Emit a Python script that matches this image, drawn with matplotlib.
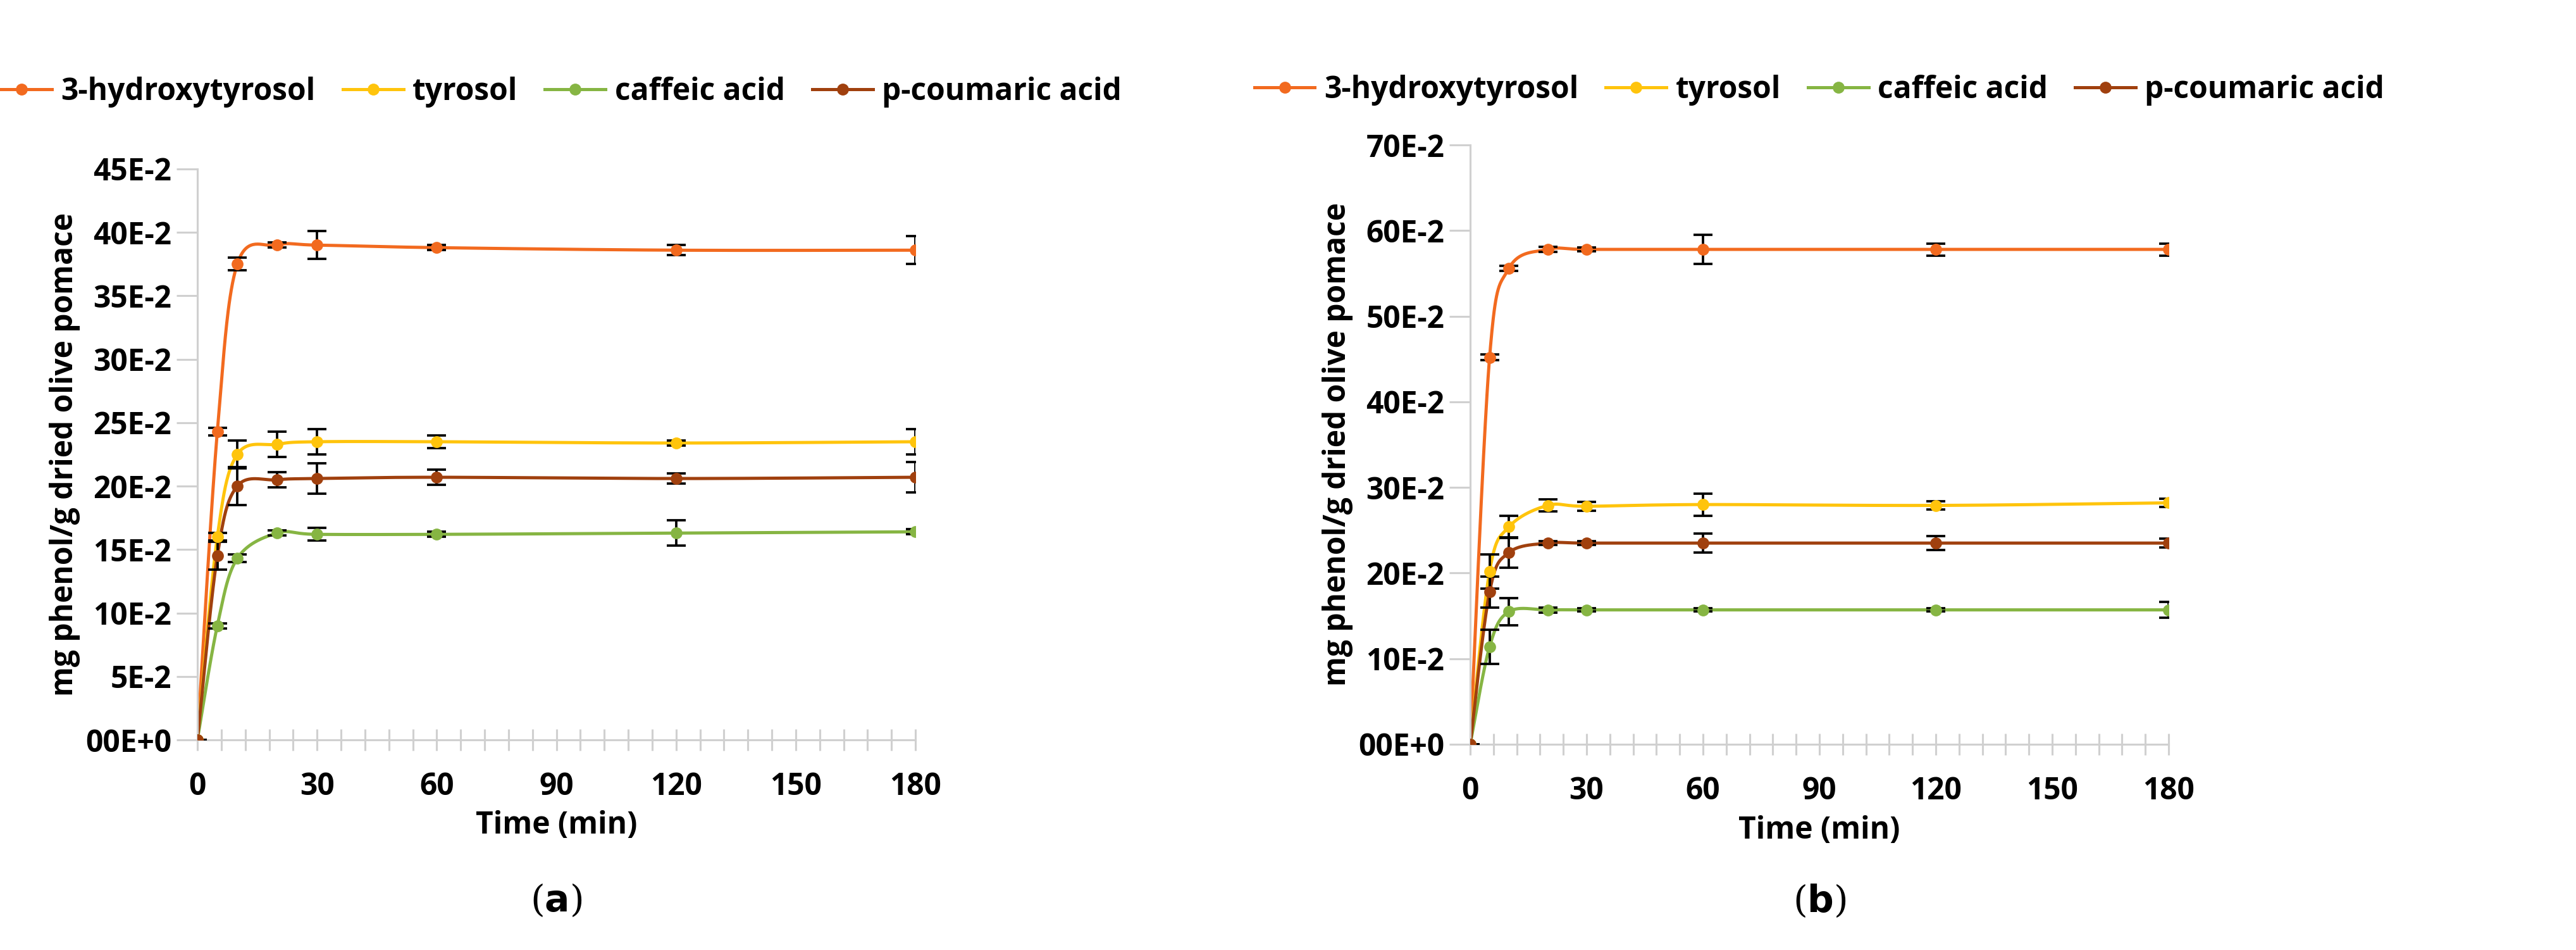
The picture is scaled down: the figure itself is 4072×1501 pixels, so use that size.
import numpy as np
import matplotlib.pyplot as plt
from matplotlib.ticker import MultipleLocator, FuncFormatter

plt.rcParams['font.family'] = ['Open Sans', 'DejaVu Sans']

time = [0, 5, 10, 20, 30, 60, 120, 180]
names = ["3-hydroxytyrosol", "tyrosol", "caffeic acid", "p-coumaric acid"]
colors = ["#F26A1F", "#FFC40C", "#86B543", "#A0400E"]

# panel (a)
a_vals = [
    [0, 0.243, 0.375, 0.390, 0.390, 0.388, 0.386, 0.386],
    [0, 0.160, 0.225, 0.233, 0.235, 0.235, 0.234, 0.235],
    [0, 0.090, 0.143, 0.163, 0.162, 0.162, 0.163, 0.164],
    [0, 0.145, 0.200, 0.205, 0.206, 0.207, 0.206, 0.207],
]
a_errs = [
    [0, 0.003, 0.005, 0.002, 0.011, 0.002, 0.004, 0.011],
    [0, 0.003, 0.011, 0.010, 0.010, 0.005, 0.002, 0.010],
    [0, 0.002, 0.003, 0.002, 0.005, 0.002, 0.010, 0.002],
    [0, 0.011, 0.015, 0.006, 0.012, 0.006, 0.004, 0.012],
]
# panel (b)
b_vals = [
    [0, 0.452, 0.556, 0.578, 0.578, 0.578, 0.578, 0.578],
    [0, 0.202, 0.254, 0.279, 0.278, 0.280, 0.279, 0.282],
    [0, 0.114, 0.155, 0.157, 0.157, 0.157, 0.157, 0.157],
    [0, 0.178, 0.224, 0.235, 0.235, 0.235, 0.235, 0.235],
]
b_errs = [
    [0, 0.003, 0.003, 0.003, 0.002, 0.017, 0.007, 0.007],
    [0, 0.020, 0.013, 0.007, 0.005, 0.013, 0.005, 0.005],
    [0, 0.020, 0.016, 0.003, 0.002, 0.002, 0.002, 0.009],
    [0, 0.018, 0.018, 0.002, 0.002, 0.011, 0.008, 0.005],
]


def smooth(x, y, n=40):
    """Catmull-Rom curve through the points, like Excel's smoothed line."""
    x = np.asarray(x, float)
    y = np.asarray(y, float)
    px = np.concatenate([[x[0]], x, [x[-1]]])
    py = np.concatenate([[y[0]], y, [y[-1]]])
    xs, ys = [], []
    t = np.linspace(0, 1, n)
    for i in range(1, len(px) - 2):
        for p, out in ((px, xs), (py, ys)):
            p0, p1, p2, p3 = p[i - 1], p[i], p[i + 1], p[i + 2]
            m1 = (p2 - p0) / 6
            m2 = (p3 - p1) / 6
            out.append((2*t**3 - 3*t**2 + 1) * p1 + (t**3 - 2*t**2 + t) * 3*m1
                       + (-2*t**3 + 3*t**2) * p2 + (t**3 - t**2) * 3*m2)
    return np.concatenate(xs), np.concatenate(ys)


def fmt(v, pos):
    n = int(round(v * 100))
    return "00E+0" if n == 0 else f"{n}E-2"


def panel(ax, vals, errs, ymax, ystep, label, leg_y, lab_y):
    for name, c, v, e in zip(names, colors, vals, errs):
        sx, sy = smooth(time, v)
        ax.plot(sx, sy, color=c, lw=2.4, zorder=2)
        ax.errorbar(time, v, yerr=e, fmt="none", ecolor="black", elinewidth=1.8,
                    capsize=7, capthick=1.8, zorder=3)
        ax.plot(time, v, "o", color=c, ms=8, zorder=4)
        ax.plot([], [], "-o", color=c, ms=8, lw=2.4, label=name)
    ax.set_xlim(0, 180)
    ax.set_ylim(0, ymax)
    ax.xaxis.set_major_locator(MultipleLocator(30))
    ax.xaxis.set_minor_locator(MultipleLocator(6))
    ax.yaxis.set_major_locator(MultipleLocator(ystep))
    ax.yaxis.set_major_formatter(FuncFormatter(fmt))
    for s in ("top", "right"):
        ax.spines[s].set_visible(False)
    for s in ("left", "bottom"):
        ax.spines[s].set_color("#D0D0D0")
        ax.spines[s].set_linewidth(1.5)
    ax.tick_params(axis="x", which="both", direction="inout", length=16, width=1.5,
                   color="#D0D0D0", pad=16)
    ax.tick_params(axis="y", direction="out", length=16, width=1.5, color="#D0D0D0")
    ax.tick_params(labelsize=23)
    for t in ax.get_xticklabels() + ax.get_yticklabels():
        t.set_fontweight("bold")
    ax.set_xlabel("Time (min)", fontsize=23, fontweight="bold", labelpad=6)
    ax.set_ylabel("mg phenol/g dried olive pomace", fontsize=23, fontweight="bold")
    ax.legend(loc="lower center", bbox_to_anchor=(0.5, leg_y), ncol=4, frameon=False,
              prop={"size": 23, "weight": "bold"}, handlelength=2.0,
              columnspacing=0.9, handletextpad=0.3)
    ax.text(0.5, lab_y, label, transform=ax.transAxes, ha="center", fontsize=28,
            fontfamily="DejaVu Serif")


fig = plt.figure(figsize=(4072 / 150, 1501 / 150), dpi=150)
ax1 = fig.add_axes([312 / 4072, 1 - 1169 / 1501, 1135 / 4072, 902 / 1501])
ax2 = fig.add_axes([2324 / 4072, 1 - 1176 / 1501, 1104 / 4072, 947 / 1501])
panel(ax1, a_vals, a_errs, 0.45, 0.05, r"($\mathbf{a}$)", 1.06, -0.30)
panel(ax2, b_vals, b_errs, 0.70, 0.10, r"($\mathbf{b}$)", 1.02, -0.28)
fig.savefig("out.png", dpi=150)
